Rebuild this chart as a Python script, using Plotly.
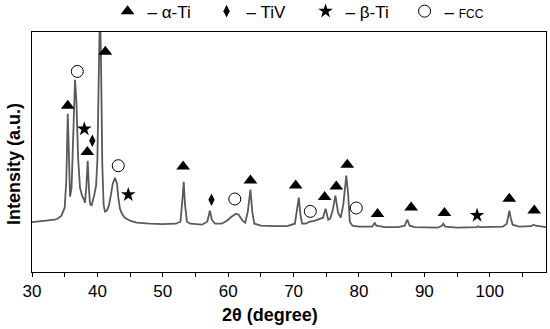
import plotly.graph_objects as go

# XRD pattern: 2θ (degree) and intensity (a.u.)
two_theta = [30.0, 31.0, 32.0, 33.0, 33.5, 34.0, 34.5, 35.0, 35.25, 35.47, 35.65, 35.82, 36.05, 36.3,
             36.58, 36.8, 37.05, 37.34, 37.65, 37.95, 38.1, 38.3, 38.52, 38.7, 38.87, 39.1, 39.3, 39.53,
             39.8, 40.0, 40.2, 40.4, 40.55, 40.75, 40.95, 41.16, 41.45, 41.75, 42.05, 42.35, 42.69, 43.0,
             43.2, 43.45, 43.75, 44.2, 45.0, 46.0, 48.0, 50.0, 52.0, 52.7, 53.0, 53.2, 53.4, 53.7, 54.2,
             56.0, 56.8, 57.2, 57.5, 58.0, 59.0, 59.8, 60.5, 61.2, 61.6, 62.2, 62.6, 63.0, 63.4, 63.7,
             64.0, 65.0, 67.0, 69.0, 70.2, 70.5, 70.8, 71.05, 71.3, 71.8, 72.5, 73.3, 74.0, 74.5, 74.9,
             75.3, 75.6, 76.0, 76.4, 76.8, 77.2, 77.6, 78.06, 78.35, 78.6, 79.0, 80.0, 82.0, 82.2, 82.4,
             82.65, 84.0, 86.0, 87.0, 87.4, 87.75, 88.5, 92.0, 92.7, 92.9, 93.2, 95.0, 98.0, 98.2, 98.5,
             102.0, 102.6, 102.85, 103.0, 103.2, 103.5, 104.5, 106.3, 106.7, 107.0, 108.6]
intensity = [525, 530, 535, 545, 550, 565, 590, 670, 950, 1610, 1100, 780, 870, 1300,
             1950, 1720, 1170, 870, 790, 750, 720, 870, 1140, 870, 710, 690, 760, 800,
             890, 1150, 1950, 2700, 2150, 1100, 700, 630, 640, 690, 790, 910, 970, 910,
             770, 660, 610, 570, 540, 520, 510, 505, 510, 530, 750, 930, 700, 530, 510,
             500, 530, 640, 550, 510, 510, 540, 580, 610, 600, 540, 520, 630, 850, 620,
             510, 490, 485, 485, 510, 630, 770, 600, 510, 510, 530, 540, 560, 570, 660,
             550, 560, 650, 790, 620, 570, 700, 990, 800, 530, 490, 480, 480, 495, 520,
             490, 475, 475, 490, 550, 490, 475, 470, 490, 510, 480, 470, 475, 485, 475,
             480, 510, 590, 640, 570, 500, 480, 485, 500, 490, 475]

# phase labels (position of each symbol)
alpha_x = [35.47, 38.46, 41.21, 53.11, 63.40, 70.32, 74.75, 76.53, 78.21, 82.84, 87.98, 93.07, 102.99, 106.8]
alpha_y = [1690, 1227, 2230, 1083, 943, 893, 777, 883, 1100, 607, 673, 617, 760, 643]
tiv_x = [39.22, 57.45]
tiv_y = [1340, 750]
beta_x = [38.0, 44.72, 98.06]
beta_y = [1457, 800, 593]
fcc_x = [36.93, 43.19, 61.01, 72.56, 79.59]
fcc_y = [2033, 1090, 757, 633, 667]

x_ticks = [30, 40, 50, 60, 70, 80, 90, 100]
x_range = [30, 108.6]
y_range = [27, 2427]

FONT = "Liberation Sans, Arial, sans-serif"

fig = go.Figure()
fig.add_trace(go.Scatter(x=two_theta, y=intensity, mode="lines",
                         line=dict(color="#5a5a5a", width=1.8), showlegend=False))
fig.add_trace(go.Scatter(x=alpha_x, y=alpha_y, mode="markers", name="– α-Ti",
                         marker=dict(symbol="triangle-up", size=12, color="black")))
fig.add_trace(go.Scatter(x=tiv_x, y=tiv_y, mode="markers", name="– TiV",
                         marker=dict(symbol="diamond-tall", size=9, color="black")))
fig.add_trace(go.Scatter(x=beta_x, y=beta_y, mode="markers", name="– β-Ti",
                         marker=dict(symbol="star", size=11, color="black")))
fig.add_trace(go.Scatter(x=fcc_x, y=fcc_y, mode="markers",
                         name="– <span style='font-size:12px'>FCC</span>",
                         marker=dict(symbol="circle-open", size=12, color="black",
                                     line=dict(width=1, color="black"))))

fig.update_layout(
    width=550, height=329,
    margin=dict(l=32, r=4, t=32, b=57, autoexpand=False),
    paper_bgcolor="white", plot_bgcolor="white",
    font=dict(family=FONT, color="black"),
    showlegend=True,
    legend=dict(orientation="h", x=0.147, xanchor="left", y=1.085, yanchor="middle",
                font=dict(size=17, family=FONT), bgcolor="rgba(0,0,0,0)",
                entrywidth=54, entrywidthmode="pixels",
                itemclick=False, tracegroupgap=0),
    xaxis=dict(range=x_range, tickvals=x_ticks, ticks="outside", ticklen=4, tickwidth=1,
               tickcolor="black", showline=True, linecolor="black", linewidth=1, mirror=True,
               showgrid=False, zeroline=False, tickfont=dict(size=17, family=FONT),
               automargin=False,
               minor=dict(dtick=5, ticks="outside", ticklen=4, tickcolor="black", showgrid=False)),
    yaxis=dict(range=y_range, showticklabels=False, ticks="", showline=True, linecolor="black",
               linewidth=1, mirror=True, showgrid=False, zeroline=False, automargin=False),
    annotations=[
        dict(text="<b>2θ (degree)</b>", xref="paper", yref="paper", x=0.463, y=0,
             xanchor="center", yanchor="middle", yshift=-43, showarrow=False,
             font=dict(size=18, family=FONT)),
        dict(text="<b>Intensity (a.u.)</b>", xref="paper", yref="paper", x=0, y=0.45,
             xanchor="center", yanchor="middle", xshift=-18, textangle=-90, showarrow=False,
             font=dict(size=18, family=FONT)),
    ],
)

fig.write_html("out.html", config={"displayModeBar": False},
               post_script="document.body.style.margin='0';document.body.style.overflow='hidden';")
